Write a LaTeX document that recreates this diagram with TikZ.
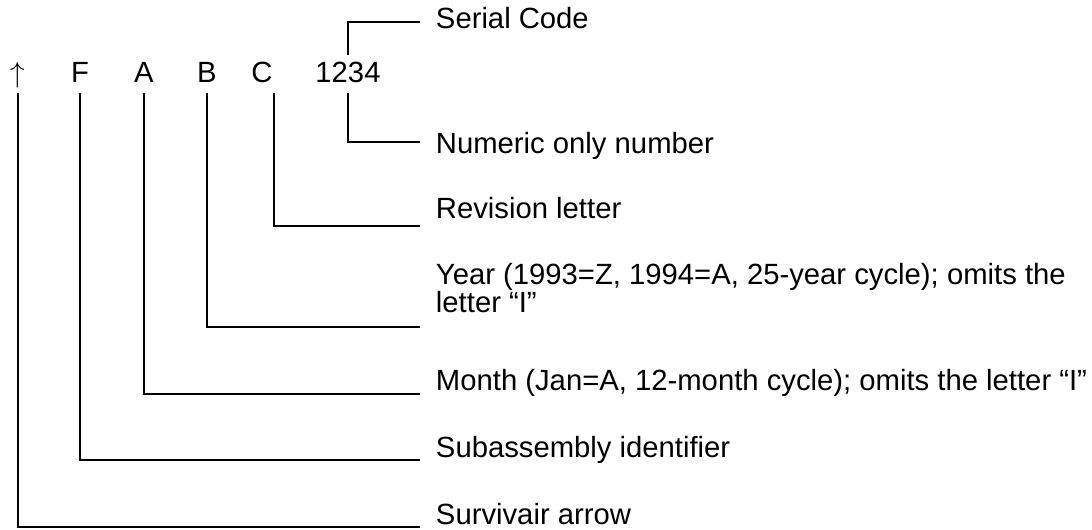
\documentclass[tikz,border=0pt]{standalone}
\usepackage{fontspec}
\setmainfont{Liberation Sans}

\begin{document}
\begin{tikzpicture}[x=0.025cm, y=-0.025cm, line width=1.4pt,
  every node/.style={font=\fontsize{20.8}{19.8}\selectfont},
  char/.style={inner sep=0pt, text height=0.65cm, text depth=0.25cm, anchor=base},
  lbl/.style={anchor=base west, inner xsep=0.375cm, inner ysep=0pt, align=left}]
  \useasboundingbox (0,0) rectangle (1092,529);

  \node[char] (arw) at (18,82) {$\uparrow$};
  \node[char] (f) at (80,82) {F};
  \node[char] (a) at (144,82) {A};
  \node[char] (b) at (207,82) {B};
  \node[char] (c) at (262,82) {C};
  \node[char] (num) at (348,82) {1234};

  \coordinate (e-ser) at (420,22);
  \coordinate (e-num) at (420,142);
  \coordinate (e-rev) at (420,226);
  \coordinate (e-yr) at (420,327);
  \coordinate (e-mon) at (420,394);
  \coordinate (e-sub) at (420,460);
  \coordinate (e-arw) at (420,527);

  \node[lbl] (serial) at (420,28) {Serial Code};
  \node[lbl] (numeric) at (420,153) {Numeric only number};
  \node[lbl] (rev) at (420,218) {Revision letter};
  \node[lbl] (year) at (420,312) {Year (1993=Z, 1994=A, 25-year cycle); omits the\\letter “I”};
  \node[lbl] (month) at (420,390) {Month (Jan=A, 12-month cycle); omits the letter “I”};
  \node[lbl] (sub) at (420,457) {Subassembly identifier};
  \node[lbl] (surv) at (420,524) {Survivair arrow};

  \draw (num.north) |- (e-ser);
  \draw (num.south) |- (e-num);
  \draw (c.south east) |- (e-rev);
  \draw (b.south) |- (e-yr);
  \draw (a.south) |- (e-mon);
  \draw (f.south) |- (e-sub);
  \draw (arw.south) |- (e-arw);
\end{tikzpicture}
\end{document}
